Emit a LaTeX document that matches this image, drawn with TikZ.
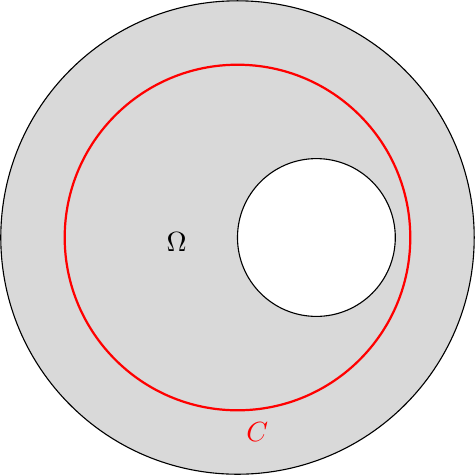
\documentclass[tikz,border=0pt]{standalone}
\usepackage{amsmath,amssymb}
\usetikzlibrary{positioning}

\begin{document}
\begin{tikzpicture}[
  region/.style={draw=black,fill=black!15,thin},
  hole/.style={draw=black,fill=white,thin},
  curveC/.style={draw=red,thick}
]
\useasboundingbox (-3.01,-3.01) rectangle (3.01,3.01);
\draw[region] (0,0) circle (3);
\draw[hole] (1,0) circle (1);
\draw[curveC] (0,0) circle (2.19);
\node (omega) at (-0.77,-0.06) {$\Omega$};
\node[text=red] (clabel) at (0.25,-2.47) {$C$};
\end{tikzpicture}
\end{document}
